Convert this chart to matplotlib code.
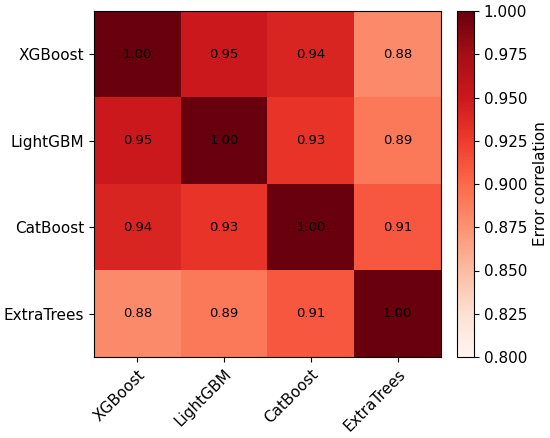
import matplotlib
matplotlib.use("Agg")
import matplotlib.pyplot as plt
import numpy as np

models = ["XGBoost", "LightGBM", "CatBoost", "ExtraTrees"]
corr = [
    [1.00, 0.95, 0.94, 0.88],
    [0.95, 1.00, 0.93, 0.89],
    [0.94, 0.93, 1.00, 0.91],
    [0.88, 0.89, 0.91, 1.00],
]
cbar_ticks = [0.800, 0.825, 0.850, 0.875, 0.900, 0.925, 0.950, 0.975, 1.000]

W, H = 550, 438
fig = plt.figure(figsize=(5.5, 4.38), dpi=100)
ax = fig.add_axes([94/W, (H-357)/H, 347/W, 346/H])
cax = fig.add_axes([457/W, (H-357)/H, 17/W, 346/H])

data = np.array(corr)
im = ax.imshow(data, cmap="Reds", vmin=0.8, vmax=1.0, aspect="auto")
ax.set_xticks(range(len(models)))
ax.set_yticks(range(len(models)))
ax.set_xticklabels(models, rotation=45, ha="right", rotation_mode="anchor", fontsize=11)
ax.set_yticklabels(models, fontsize=11)
for i in range(len(models)):
    for j in range(len(models)):
        ax.text(j, i, f"{data[i, j]:.2f}", ha="center", va="center", fontsize=9.5, color="black")

cb = fig.colorbar(im, cax=cax, ticks=cbar_ticks)
cb.ax.set_yticklabels([f"{t:.3f}" for t in cbar_ticks], fontsize=11)
cb.set_label("Error correlation", fontsize=11)

fig.savefig("out.png", dpi=100)
